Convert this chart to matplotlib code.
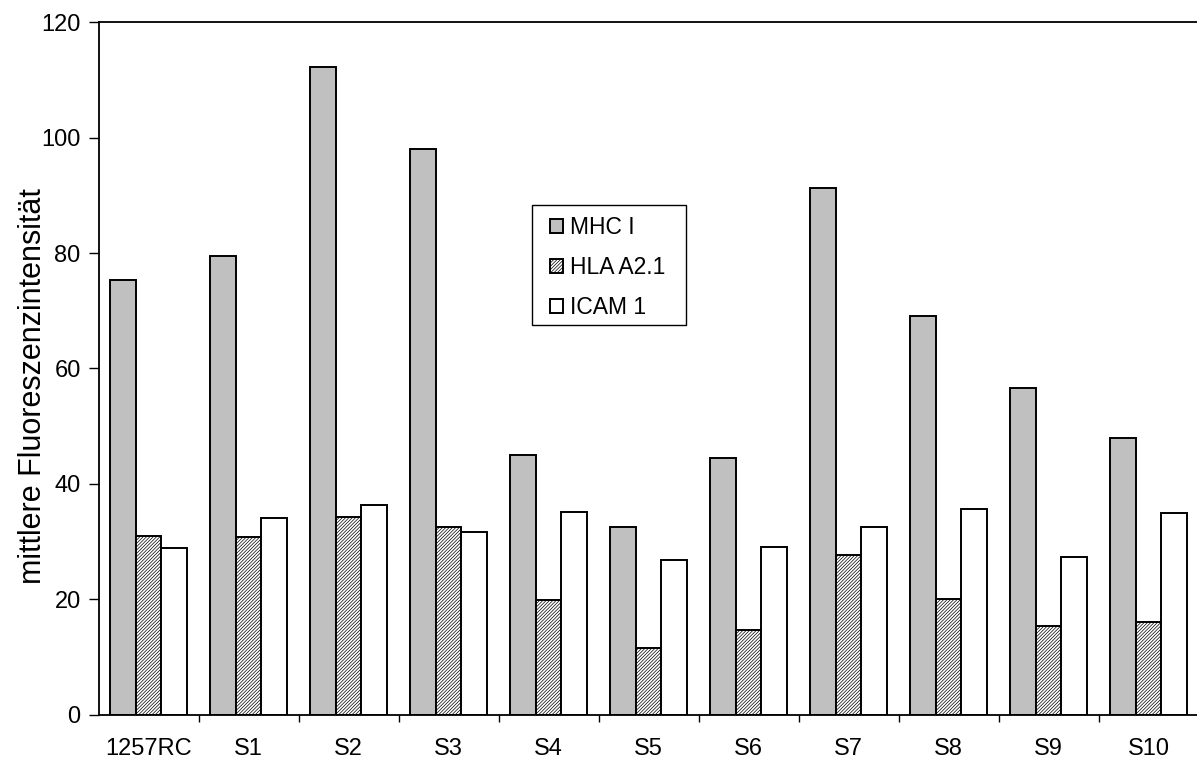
import matplotlib
matplotlib.use("Agg")
import matplotlib.pyplot as plt
from matplotlib.patches import Rectangle
import numpy as np

plt.rcParams['font.family'] = ['Liberation Sans', 'DejaVu Sans']
plt.rcParams['hatch.linewidth'] = 0.5
plt.rcParams['hatch.color'] = '#707070'

categories = ["1257RC", "S1", "S2", "S3", "S4", "S5", "S6", "S7", "S8", "S9", "S10"]
mhc_i = [75.3, 79.5, 112.3, 98.0, 45.0, 32.5, 44.5, 91.3, 69.0, 56.6, 47.9]
hla_a21 = [31.0, 30.8, 34.3, 32.5, 19.8, 11.5, 14.6, 27.6, 20.1, 15.3, 16.1]
icam_1 = [28.8, 34.1, 36.3, 31.7, 35.1, 26.7, 29.1, 32.5, 35.6, 27.3, 34.9]
series_names = ["MHC I", "HLA A2.1", "ICAM 1"]
y_ticks = [0, 20, 40, 60, 80, 100, 120]

W, H = 1197, 760
fig = plt.figure(figsize=(W / 100, H / 100), dpi=100)
left, right, bottom, top = 98.7, 1198.7, 714.5, 22.3
ax = fig.add_axes([left / W, (H - bottom) / H, (right - left) / W, (bottom - top) / H])

x = np.arange(len(categories))
bw = 0.255
edge = dict(edgecolor='black', linewidth=1.4)
ax.bar(x - bw, mhc_i, bw, color='#c0c0c0', label=series_names[0], **edge)
ax.bar(x, hla_a21, bw, color='white', hatch='//////////', label=series_names[1], **edge)
ax.bar(x + bw, icam_1, bw, color='white', label=series_names[2], **edge)

ax.set_xlim(-0.5, len(categories) - 0.5)
ax.set_ylim(0, 120)
ax.set_yticks(y_ticks)
ax.set_yticklabels([str(v) for v in y_ticks], fontsize=17)
ax.tick_params(axis='y', direction='out', length=7, width=1, pad=6)

# category labels centred, tick marks on the category boundaries
ax.set_xticks(x)
ax.set_xticklabels(categories, fontsize=17)
ax.tick_params(axis='x', which='major', length=0, pad=17)
ax.set_xticks(np.arange(0.5, len(categories) - 0.5, 1), minor=True)
ax.tick_params(axis='x', which='minor', direction='out', length=5, width=1)

for side in ('left', 'bottom', 'top'):
    ax.spines[side].set_linewidth(1.3)
ax.spines['right'].set_visible(False)

ax.set_ylabel("mittlere Fluoreszenzintensität", fontsize=22)
ax.yaxis.set_label_coords(-0.046, 0.475)

# legend entries without their own frame; the box is drawn separately
fs_px = 16.5 * 100 / 72
bp = 0.47
leg = ax.legend(loc='upper left',
                bbox_to_anchor=((550 - bp * fs_px) / W, (H - 205) / H),
                bbox_transform=fig.transFigure, fontsize=16.5, frameon=False,
                handlelength=0.57, handleheight=0.57, handletextpad=0.3,
                labelspacing=0.75, borderpad=bp, borderaxespad=0)
fig.patches.append(Rectangle((532 / W, (H - 325) / H), (686 - 532) / W, (325 - 205) / H,
                             transform=fig.transFigure, facecolor='none',
                             edgecolor='black', linewidth=1.0, zorder=5))

fig.savefig("out.png", dpi=100)
